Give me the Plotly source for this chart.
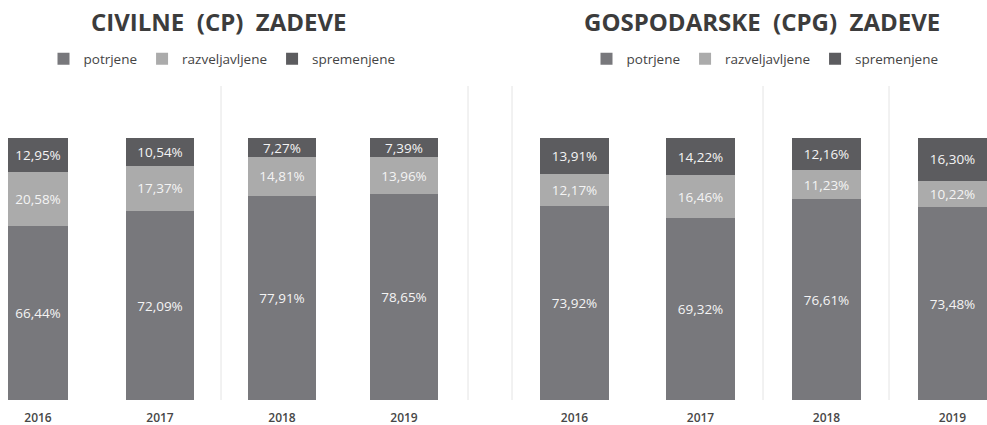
import plotly.graph_objects as go

years = ["2016", "2017", "2018", "2019"]
series = ["potrjene", "razveljavljene", "spremenjene"]

cp_potrjene = [66.44, 72.09, 77.91, 78.65]
cp_razveljavljene = [20.58, 17.37, 14.81, 13.96]
cp_spremenjene = [12.95, 10.54, 7.27, 7.39]

cpg_potrjene = [73.92, 69.32, 76.61, 73.48]
cpg_razveljavljene = [12.17, 16.46, 11.23, 10.22]
cpg_spremenjene = [13.91, 14.22, 12.16, 16.30]

titles = ["CIVILNE  (CP)  ZADEVE", "GOSPODARSKE  (CPG)  ZADEVE"]

bar_colors = ["#78787c", "#ababab", "#5c5c5f"]
W, H = 987, 425


def fmt(vals):
    return [f"{v:.2f}".replace(".", ",") + "%" for v in vals]


fig = go.Figure()

panels = [
    ("x", "y", "legend", [cp_potrjene, cp_razveljavljene, cp_spremenjene], [0.49, 0.56, 0.56, 0.56]),
    ("x2", "y2", "legend2", [cpg_potrjene, cpg_razveljavljene, cpg_spremenjene], [0.555, 0.555, 0.555, 0.555]),
]
for xa, ya, lg, data, widths in panels:
    for name, vals, col in zip(series, data, bar_colors):
        fig.add_trace(go.Bar(
            x=years, y=vals, name=name, xaxis=xa, yaxis=ya, legend=lg,
            marker=dict(color=col, line=dict(width=0)),
            width=widths,
            text=fmt(vals), textposition="inside", insidetextanchor="middle",
            textangle=0,
            textfont=dict(family="Open Sans", size=13.5, color="#f4f4f4"),
            hoverinfo="skip",
        ))

ydom = [25 / H, 287 / H]
lx0, lx1 = 0, 480
lrange = [(lx0 - 38) / 122, (lx1 - 38) / 122]
rx0, rx1 = 500, 987
rrange = [(rx0 - 574.5) / 126, (rx1 - 574.5) / 126]

tickfont = dict(family="Open Sans", size=12, color="#474747", weight=600)
legfont = dict(family="Open Sans", size=13.5, color="#444444")
fig.update_layout(
    width=W, height=H,
    margin=dict(l=0, r=0, t=0, b=0),
    paper_bgcolor="white", plot_bgcolor="white",
    barmode="stack",
    uniformtext=dict(minsize=8, mode="show"),
    xaxis=dict(domain=[lx0 / W, lx1 / W], range=lrange, type="category",
               showgrid=False, zeroline=False, showline=False,
               ticks="outside", ticklen=7, tickcolor="rgba(0,0,0,0)", tickfont=tickfont),
    xaxis2=dict(domain=[rx0 / W, rx1 / W], range=rrange, type="category",
                showgrid=False, zeroline=False, showline=False,
                ticks="outside", ticklen=7, tickcolor="rgba(0,0,0,0)", tickfont=tickfont),
    yaxis=dict(domain=ydom, range=[0, 100], visible=False),
    yaxis2=dict(domain=ydom, range=[0, 100], visible=False, anchor="x2"),
    legend=dict(orientation="h", x=222 / W, xanchor="center", y=1 - 59 / H, yanchor="middle",
                font=legfont, itemwidth=30, traceorder="normal", bgcolor="rgba(0,0,0,0)"),
    legend2=dict(orientation="h", x=765 / W, xanchor="center", y=1 - 59 / H, yanchor="middle",
                 font=legfont, itemwidth=30, traceorder="normal", bgcolor="rgba(0,0,0,0)"),
    showlegend=True,
)

for cx, t in zip([219, 762], titles):
    fig.add_annotation(text=f"<b>{t}</b>", x=cx / W, y=1 - 22 / H, xref="paper", yref="paper",
                       xanchor="center", yanchor="middle", showarrow=False,
                       font=dict(family="Open Sans", size=24, color="#3c3c3c"))

# faint separator lines from the scanned source
for px in [221, 468, 512, 763, 889]:
    fig.add_shape(type="line", xref="paper", yref="paper",
                  x0=px / W, x1=px / W, y0=1 - 400 / H, y1=1 - 86 / H,
                  line=dict(color="#e4e4e4", width=1))

fig.write_html("out.html", config={"displayModeBar": False},
               post_script="document.body.style.margin='0';document.body.style.overflow='hidden';")
